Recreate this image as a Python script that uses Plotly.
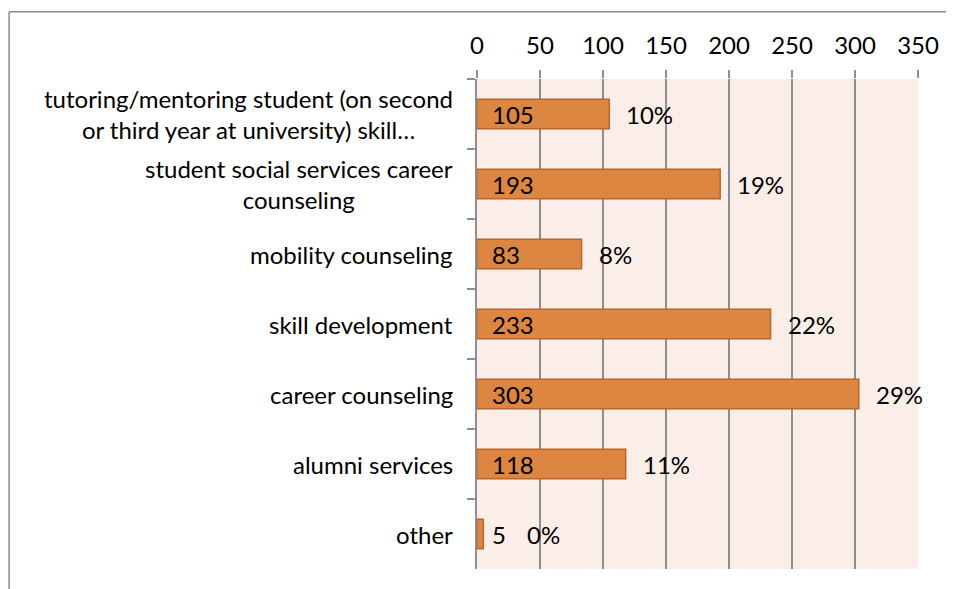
"""Horizontal bar: student services usage counts with shares."""

import plotly.graph_objects as go

categories = [
    "tutoring/mentoring student (on second<br>or third year at university) skill…",
    "student social services career<br>counseling",
    "mobility counseling",
    "skill development",
    "career counseling",
    "alumni services",
    "other",
]
counts = [105, 193, 83, 233, 303, 118, 5]
x_ticks = [0, 50, 100, 150, 200, 250, 300, 350]

total = sum(counts)
shares = [f"{round(100 * c / total)}%" for c in counts]

FONT = "Lato, 'Open Sans', sans-serif"
FSIZE = 24
GRID = "#8e8e8e"

fig = go.Figure(
    go.Bar(
        x=counts,
        y=categories,
        orientation="h",
        width=0.42,
        marker=dict(color="#dd8642", line=dict(color="#b9652b", width=1.5)),
        hoverinfo="x+y",
    )
)

# category labels, centred lines, right-aligned against the axis
for cat in categories:
    fig.add_annotation(
        x=0, xref="paper", y=cat, yref="y",
        text=cat, showarrow=False,
        xanchor="right", align="center", xshift=-22,
        font=dict(family=FONT, size=FSIZE, color="black"),
    )

# value labels near the bar base, share labels beyond the bar end
for cat, c, s in zip(categories, counts, shares):
    fig.add_annotation(
        x=0, y=cat, text=str(c), showarrow=False,
        xanchor="left", xshift=13,
        font=dict(family=FONT, size=FSIZE, color="black"),
    )
    fig.add_annotation(
        x=c, y=cat, text=s, showarrow=False,
        xanchor="left", xshift=42 if c < 20 else 15,
        font=dict(family=FONT, size=FSIZE, color="black"),
    )

# outer chart border (top and left edges visible in the crop)
fig.add_shape(type="line", xref="paper", yref="paper",
              x0=-1.061, x1=1.2, y0=1.137, y1=1.137,
              line=dict(color="#8c8c8c", width=1.5))
fig.add_shape(type="line", xref="paper", yref="paper",
              x0=-1.061, x1=-1.061, y0=-0.1, y1=1.137,
              line=dict(color="#8c8c8c", width=1.5))

fig.update_layout(
    width=954,
    height=589,
    margin=dict(l=469, r=44, t=71, b=28),
    paper_bgcolor="white",
    plot_bgcolor="#fbeee9",
    showlegend=False,
    font=dict(family=FONT, size=FSIZE, color="black"),
    xaxis=dict(
        side="top",
        range=[0, 350],
        tickvals=x_ticks,
        ticks="outside",
        ticklen=8,
        tickcolor=GRID,
        tickwidth=2,
        ticklabelstandoff=6,
        showgrid=True,
        gridcolor=GRID,
        gridwidth=2,
        zeroline=False,
        showline=False,
        tickfont=dict(family=FONT, size=FSIZE),
        fixedrange=True,
    ),
    yaxis=dict(
        autorange="reversed",
        showticklabels=False,
        tickson="boundaries",
        ticks="outside",
        ticklen=8,
        tickcolor=GRID,
        tickwidth=2,
        showline=True,
        linecolor=GRID,
        linewidth=2,
        showgrid=False,
        fixedrange=True,
    ),
)

fig.write_html("out.html")
